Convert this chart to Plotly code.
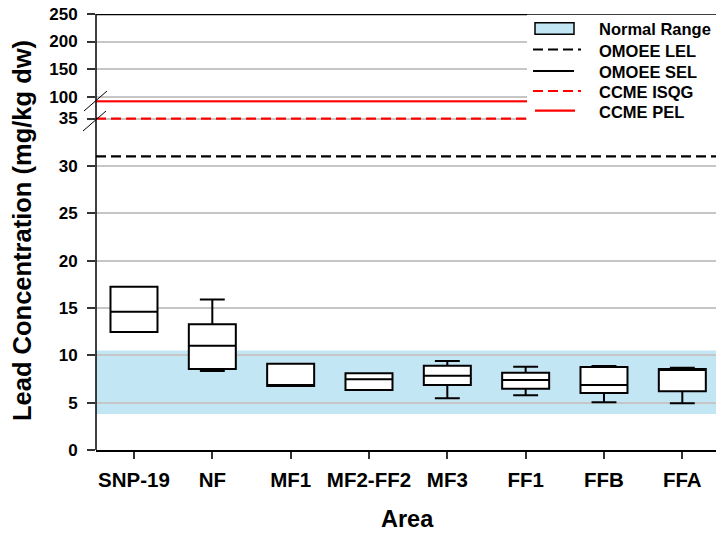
import plotly.graph_objects as go

# Sediment lead concentrations by area (mg/kg dry weight)
areas = ["SNP-19", "NF", "MF1", "MF2-FF2", "MF3", "FF1", "FFB", "FFA"]
lower_fence = [12.46, 8.34, 6.76, 6.34, 5.46, 5.78, 5.03, 4.93]
q1_vals = [12.46, 8.55, 6.76, 6.34, 6.86, 6.47, 6.02, 6.20]
median_vals = [14.6, 11.0, 6.76, 7.46, 7.85, 7.39, 6.86, 8.55]
q3_vals = [17.25, 13.27, 9.11, 8.10, 8.90, 8.16, 8.76, 8.55]
upper_fence = [17.25, 15.9, 9.11, 8.10, 9.40, 8.80, 8.87, 8.69]

# Normal range band and sediment quality guidelines
normal_range = [3.8, 10.5]
omoee_lel = 31
omoee_sel = 250
ccme_isqg = 35
ccme_pel = 91.3

# Axis ticks (broken axis: lower and upper panels)
lower_ticks = [0, 5, 10, 15, 20, 25, 30, 35]
upper_ticks = [100, 150, 200, 250]
legend_labels = ["Normal Range", "OMOEE LEL", "OMOEE SEL", "CCME ISQG", "CCME PEL"]

W, H = 716, 533
L, R, T, B = 96, 0, 14, 83
PW, PH = W - L - R, H - T - B
BOTTOM = H - B

FONT = "Liberation Sans, Arial, sans-serif"
BAND = "#c3e6f4"
GRID = "#c6c6c6"


def px_x(px):
    return (px - L) / PW


def px_y(py):
    return (BOTTOM - py) / PH


fig = go.Figure()

fig.add_trace(go.Box(
    x=areas, q1=q1_vals, median=median_vals, q3=q3_vals,
    lowerfence=lower_fence, upperfence=upper_fence,
    width=0.6, whiskerwidth=0.53, boxpoints=False,
    fillcolor="white", line=dict(color="black", width=2),
    xaxis="x", yaxis="y", showlegend=False, hoverinfo="y",
))

shapes = []
# normal range band under the gridlines
shapes.append(dict(type="rect", xref="x domain", yref="y", x0=0, x1=1,
                   y0=normal_range[0], y1=normal_range[1], layer="below",
                   fillcolor=BAND, line=dict(width=0)))

# guideline lines
shapes.append(dict(type="line", xref="x domain", yref="y", x0=0, x1=1,
                   y0=omoee_lel, y1=omoee_lel, layer="above",
                   line=dict(color="black", width=2.2, dash="10px,5px")))
shapes.append(dict(type="line", xref="x domain", yref="y", x0=0, x1=1,
                   y0=ccme_isqg, y1=ccme_isqg, layer="above",
                   line=dict(color="#ff0000", width=2.2, dash="10px,5px")))
shapes.append(dict(type="line", xref="x domain", yref="y2", x0=0, x1=1,
                   y0=ccme_pel, y1=ccme_pel, layer="above",
                   line=dict(color="#ff0000", width=2.5)))
shapes.append(dict(type="line", xref="x domain", yref="y2", x0=0, x1=1,
                   y0=omoee_sel, y1=omoee_sel, layer="above",
                   line=dict(color="black", width=2.5)))

# continuous vertical axis line and break marks
shapes.append(dict(type="line", xref="paper", yref="paper", x0=0, x1=0,
                   y0=0, y1=1, layer="above", line=dict(color="black", width=1.5)))
for (xa, ya, xb, yb) in [(84, 111, 107, 91), (83, 131, 106, 111)]:
    shapes.append(dict(type="line", xref="paper", yref="paper",
                       x0=px_x(xa), y0=px_y(ya), x1=px_x(xb), y1=px_y(yb),
                       layer="above", line=dict(color="black", width=1)))

# legend panel
shapes.append(dict(type="rect", xref="paper", yref="paper",
                   x0=px_x(527), x1=px_x(730), y0=px_y(123), y1=px_y(14.8),
                   layer="above", fillcolor="white", line=dict(width=0)))
shapes.append(dict(type="rect", xref="paper", yref="paper",
                   x0=px_x(535), x1=px_x(574), y0=px_y(34.3), y1=px_y(22.7),
                   layer="above", fillcolor=BAND, line=dict(color="black", width=1.5)))
legend_lines = [
    (533, 581, 49.5, "black", "10px,5px"),
    (533, 574, 71, "black", "solid"),
    (533, 581, 91, "#ff0000", "10px,5px"),
    (535, 575, 110.7, "#ff0000", "solid"),
]
for xa, xb, yy, col, dash in legend_lines:
    shapes.append(dict(type="line", xref="paper", yref="paper",
                       x0=px_x(xa), x1=px_x(xb), y0=px_y(yy), y1=px_y(yy),
                       layer="above", line=dict(color=col, width=2.2, dash=dash)))

annotations = []
for label, yy in zip(legend_labels, [29, 50.7, 72.3, 91.7, 111.7]):
    annotations.append(dict(text=label, xref="paper", yref="paper",
                            x=px_x(597), y=px_y(yy), xanchor="left", yanchor="middle",
                            showarrow=False,
                            font=dict(family=FONT, size=16.5, color="black", weight="bold")))

annotations.append(dict(text="Lead Concentration (mg/kg dw)", xref="paper", yref="paper",
                        x=px_x(22), y=px_y(231), textangle=-90, showarrow=False,
                        xanchor="center", yanchor="middle",
                        font=dict(family=FONT, size=25.5, color="black", weight="bold")))
annotations.append(dict(text="Area", xref="paper", yref="paper",
                        x=px_x(407.5), y=px_y(519), showarrow=False,
                        xanchor="center", yanchor="middle",
                        font=dict(family=FONT, size=23.5, color="black", weight="bold")))

lower_top = 35.5
upper_bottom = 89.5

fig.update_layout(
    width=W, height=H,
    margin=dict(l=L, r=R, t=T, b=B, pad=0),
    paper_bgcolor="white", plot_bgcolor="white",
    showlegend=False,
    shapes=shapes, annotations=annotations,
    xaxis=dict(
        type="category", categoryorder="array", categoryarray=areas,
        range=[-0.485, 7.43], domain=[0, 1], anchor="y",
        showline=True, linecolor="black", linewidth=1.5,
        ticks="outside", ticklen=7, tickwidth=1.5, tickcolor="#333333",
        showgrid=False, zeroline=False,
        tickfont=dict(family=FONT, size=20.5, color="black", weight="bold"),
        ticklabelstandoff=4,
    ),
    yaxis=dict(
        domain=[0, px_y(BOTTOM - lower_top * 9.47)], range=[0, lower_top],
        tickvals=lower_ticks, ticks="outside", ticklen=8, tickwidth=1.5,
        tickcolor="#333333", showline=False, zeroline=False,
        showgrid=True, gridcolor=GRID, gridwidth=1.5,
        tickfont=dict(family=FONT, size=17, color="black", weight="bold"),
        ticklabelstandoff=6,
    ),
    yaxis2=dict(
        domain=[px_y(14.3 + (omoee_sel - upper_bottom) * 0.549), 1],
        range=[upper_bottom, omoee_sel], anchor="x",
        tickvals=upper_ticks, ticks="outside", ticklen=8, tickwidth=1.5,
        tickcolor="#333333", showline=False, zeroline=False,
        showgrid=True, gridcolor=GRID, gridwidth=1.5,
        tickfont=dict(family=FONT, size=17, color="black", weight="bold"),
        ticklabelstandoff=6,
    ),
)

fig.write_html("out.html")
